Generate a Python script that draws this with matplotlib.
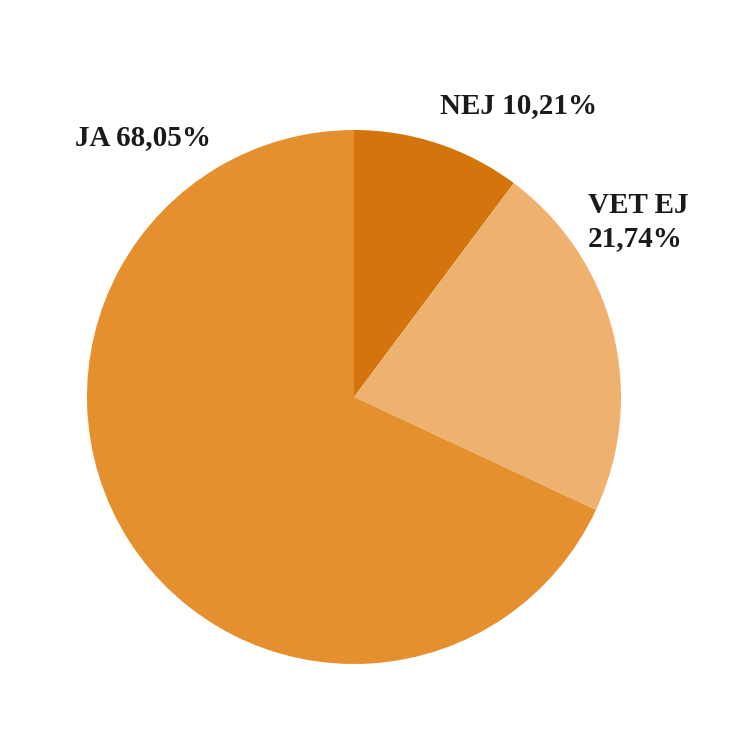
import matplotlib.pyplot as plt

labels = ['NEJ', 'VET EJ', 'JA']
values = [10.21, 21.74, 68.05]
colors = ['#D3740D', '#EEB170', '#E5902E']
label_texts = ['NEJ 10,21%', 'VET EJ\n21,74%', 'JA 68,05%']

fig = plt.figure(figsize=(7.46, 7.46), dpi=100)
ax = fig.add_axes([87 / 746, 82 / 746, 534 / 746, 534 / 746])
ax.pie(values, colors=colors, startangle=90, counterclock=False, radius=1,
       wedgeprops=dict(linewidth=0))
ax.set_xlim(-1, 1)
ax.set_ylim(-1, 1)
ax.set_aspect('equal')
ax.axis('off')

font = dict(family='Liberation Serif', size=21, weight='bold', color='#1a1a1a')
# label positions in figure pixels (left, baseline of last line)
pos = [(440, 113), (588, 246), (75, 145)]
for t, (x, y) in zip(label_texts, pos):
    fig.text(x / 746, 1 - y / 746, t, ha='left', va='baseline', linespacing=1.3, **font)

fig.savefig('out.png', dpi=100)
